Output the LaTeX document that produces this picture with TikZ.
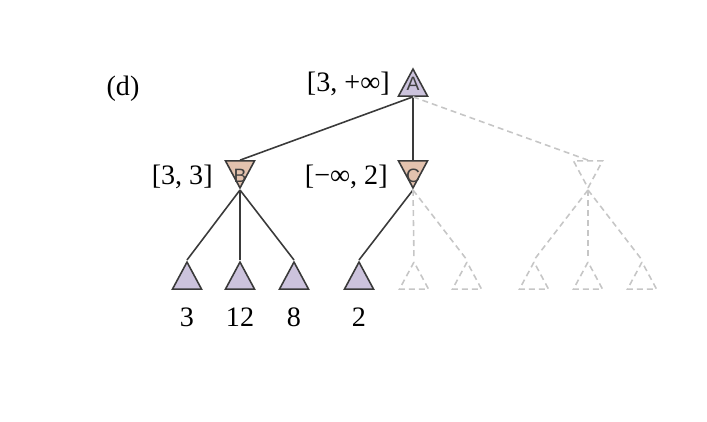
\documentclass[tikz,border=0pt]{standalone}
\usepackage{fontspec}
\setmainfont{Liberation Serif}
\newfontfamily\tagfont{Liberation Sans}
\usetikzlibrary{shapes.geometric}

\definecolor{maxfill}{HTML}{CCC3DD}
\definecolor{minfill}{HTML}{E3C2AE}
\definecolor{edgegray}{HTML}{3A3A3A}
\definecolor{ghostgray}{HTML}{C6C6C6}

\begin{document}
\begin{tikzpicture}[
        x=0.02cm, y=-0.02cm,
        tri/.style={isosceles triangle, isosceles triangle stretches, inner sep=0pt,
                    minimum width=0.58cm, minimum height=0.54cm, line width=0.9pt},
        tag/.style={font=\tagfont\fontsize{11}{13}\selectfont, text=black!75, inner sep=0pt},
        maxnode/.style={tri, shape border rotate=90, draw=edgegray, fill=maxfill},
        minnode/.style={tri, shape border rotate=270, draw=edgegray, fill=minfill},
        ghostmax/.style={tri, shape border rotate=90, draw=ghostgray, dash pattern=on 3.4pt off 2.3pt},
        ghostmin/.style={tri, shape border rotate=270, draw=ghostgray, dash pattern=on 3.4pt off 2.3pt},
        maxtag/.style={label={[tag, yshift=0.08cm]center:#1}},
        mintag/.style={label={[tag, yshift=-0.12cm]center:#1}},
        edge/.style={draw=edgegray, line width=0.9pt},
        ghost/.style={draw=ghostgray, line width=0.9pt, dash pattern=on 3.4pt off 2.3pt},
        val/.style={font=\fontsize{16}{19}\selectfont, inner sep=0pt}
    ]
        \useasboundingbox (0,0) rectangle (707,422);

        \node[val] (tag) at (123,89) {(d)};

        % root and its children
        \node[maxnode, maxtag=A, anchor=apex] (A) at (413,67)  {};
        \node[minnode, mintag=B, anchor=apex] (B) at (240,190) {};
        \node[minnode, mintag=C, anchor=apex] (C) at (413,190) {};
        \node[ghostmin, anchor=apex] (D) at (588,190) {};

        \node[val, anchor=east] (Aval) at (390,84)  {[3, +∞]};
        \node[val, anchor=east] (Bval) at (213,177) {[3, 3]};
        \node[val, anchor=east] (Cval) at (388,177) {[−∞, 2]};

        % leaves
        \node[maxnode, anchor=apex] (b1) at (187,260) {};
        \node[maxnode, anchor=apex] (b2) at (240,260) {};
        \node[maxnode, anchor=apex] (b3) at (294,260) {};
        \node[maxnode, anchor=apex] (c1) at (359,260) {};
        \node[ghostmax, anchor=apex] (c2) at (414,260) {};
        \node[ghostmax, anchor=apex] (c3) at (467,260) {};
        \node[ghostmax, anchor=apex] (d1) at (534,260) {};
        \node[ghostmax, anchor=apex] (d2) at (588,260) {};
        \node[ghostmax, anchor=apex] (d3) at (642,260) {};

        \node[val] (b1val) at (187,317) {3};
        \node[val] (b2val) at (240,317) {12};
        \node[val] (b3val) at (294,317) {8};
        \node[val] (c1val) at (359,317) {2};

        \draw[edge] (A.south) -- (B.north);
        \draw[edge] (A.south) -- (C.north);
        \draw[ghost] (A.south) -- (D.north);
        \draw[edge] (B.apex) -- (b1.apex);
        \draw[edge] (B.apex) -- (b2.apex);
        \draw[edge] (B.apex) -- (b3.apex);
        \draw[edge] (C.apex) -- (c1.apex);
        \draw[ghost] (C.apex) -- (c2.apex);
        \draw[ghost] (C.apex) -- (c3.apex);
        \draw[ghost] (D.apex) -- (d1.apex);
        \draw[ghost] (D.apex) -- (d2.apex);
        \draw[ghost] (D.apex) -- (d3.apex);
    \end{tikzpicture}
\end{document}
